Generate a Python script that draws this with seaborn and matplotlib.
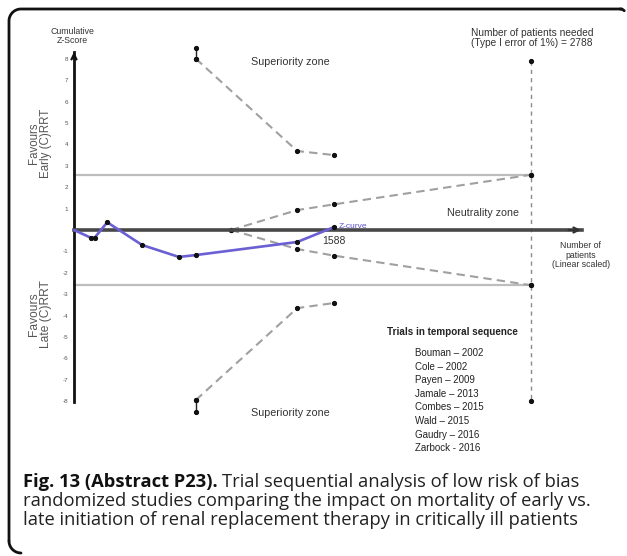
import matplotlib
matplotlib.use("Agg")
import matplotlib.pyplot as plt
from matplotlib import font_manager as fm
import seaborn as sns
import numpy as np

# ---------------- data ----------------
trial_patients = [0, 102, 126, 203, 415, 640, 744, 1362, 1588]
z_curve = [0.0, -0.36, -0.36, 0.36, -0.70, -1.26, -1.17, -0.56, 0.14]

boundary_patients = [744, 1362, 1588]
upper_boundary = [8.0, 3.69, 3.50]
lower_boundary = [-7.94, -3.65, -3.41]
cutoff_patients = [744, 744]
cutoff_upper = [8.5, 8.0]
cutoff_lower = [-8.5, -7.94]

futility_patients = [958, 1362, 1588, 2788]
futility_upper = [0.0, 0.93, 1.20, 2.58]
futility_lower = [0.0, -0.89, -1.20, -2.58]

required_info_size = 2788
ris_z = [7.9, 2.58, -2.58, -8.0]
conventional_z = 2.58
final_patients = 1588

y_ticks = [-8, -7, -6, -5, -4, -3, -2, -1, 1, 2, 3, 4, 5, 6, 7, 8]
trials = ["Bouman \u2013 2002", "Cole \u2013 2002", "Payen \u2013 2009", "Jamale \u2013 2013",
          "Combes \u2013 2015", "Wald \u2013 2015", "Gaudry \u2013 2016", "Zarbock - 2016"]

# ---------------- fonts ----------------
sns.set_style("white")
plt.rcParams["axes.unicode_minus"] = False
names = {f.name for f in fm.fontManager.ttflist}
narrow = [n for n in ["Liberation Sans Narrow", "Arial Narrow", "Nimbus Sans Narrow"] if n in names]
BASE = narrow[:1] + ["Liberation Sans", "DejaVu Sans"]
plt.rcParams["font.family"] = BASE
# a regular-width face is used instead of the reference's condensed one,
# so fonts are made slightly larger than the pure width match
GROW = 1.0 if narrow else 1.1

# ---------------- figure ----------------
W, H = 627, 556
fig = plt.figure(figsize=(W / 100, H / 100), dpi=100)

X0, SX = 74.0, 0.1639   # px of zero patients, px per patient
Y0, SY = 230.0, 21.4    # px of z = 0, px per z unit

ax = fig.add_axes([0, 0, 1, 1])
ax.set_facecolor("none")
ax.set_xlim(-X0 / SX, (W - X0) / SX)
ax.set_ylim(-(H - Y0) / SY, Y0 / SY)

for s in ["top", "right"]:
    ax.spines[s].set_visible(False)
ax.spines["left"].set_position(("data", 0))
ax.spines["bottom"].set_position(("data", 0))
ax.spines["left"].set_bounds(-8.05, 8.3)
ax.spines["bottom"].set_bounds(0, 3100)
ax.spines["left"].set_color("#111111")
ax.spines["left"].set_linewidth(2.0)
ax.spines["bottom"].set_color("#484848")
ax.spines["bottom"].set_linewidth(2.6)

ax.set_yticks(y_ticks)
ax.set_yticklabels([str(t) for t in y_ticks])
ax.tick_params(axis="y", direction="out", length=3, width=1, pad=1,
               labelsize=4.5, labelcolor="#555555", color="#222222")
ax.set_xticks([final_patients])
ax.set_xticklabels([str(final_patients)])
ax.tick_params(axis="x", direction="out", length=4, width=1, pad=0.5,
               labelsize=7.5, labelcolor="#333333", color="#333333")

# axis arrowheads
ax.annotate("", xy=(0, 8.45), xytext=(0, 7.9),
            arrowprops=dict(arrowstyle="->", lw=1.6, color="#111111", mutation_scale=9))
ax.annotate("", xy=(3110, 0), xytext=(3000, 0),
            arrowprops=dict(arrowstyle="->", lw=1.6, color="#333333", mutation_scale=9))

# conventional boundaries
for zc in (conventional_z, -conventional_z):
    ax.plot([0, required_info_size], [zc, zc], color="#bdbdbd", lw=1.6, zorder=1)

grey = "#a0a0a0"
dot = dict(marker="o", markersize=3.0, markerfacecolor="#111111", markeredgecolor="#111111")
dash = (0, (4, 2.5))

# monitoring boundaries
sns.lineplot(x=boundary_patients, y=upper_boundary, ax=ax, color=grey, lw=1.5,
             linestyle=dash, estimator=None, sort=False, **dot)
sns.lineplot(x=boundary_patients, y=lower_boundary, ax=ax, color=grey, lw=1.5,
             linestyle=dash, estimator=None, sort=False, **dot)
sns.lineplot(x=cutoff_patients, y=cutoff_upper, ax=ax, color="#222222", lw=1.0,
             estimator=None, sort=False, **dot)
sns.lineplot(x=cutoff_patients, y=cutoff_lower, ax=ax, color="#222222", lw=1.0,
             estimator=None, sort=False, **dot)

# futility (inner wedge)
sns.lineplot(x=futility_patients, y=futility_upper, ax=ax, color=grey, lw=1.5,
             linestyle=dash, estimator=None, sort=False, **dot)
sns.lineplot(x=futility_patients, y=futility_lower, ax=ax, color=grey, lw=1.5,
             linestyle=dash, estimator=None, sort=False, **dot)

# required information size
sns.lineplot(x=[required_info_size] * len(ris_z), y=ris_z, ax=ax, color="#8a8a8a", lw=1.0,
             linestyle=(0, (3, 3)), estimator=None, sort=False, **dot)

# Z-curve (no dot at the origin)
sns.lineplot(x=trial_patients, y=z_curve, ax=ax, color="#6a5fd3", lw=1.9,
             estimator=None, sort=False, zorder=5,
             markevery=list(range(1, len(trial_patients))), **dot)

# ---------------- overlay (pixel coordinates) ----------------
ov = fig.add_axes([0, 0, 1, 1])
ov.set_xlim(0, W)
ov.set_ylim(H, 0)
ov.axis("off")
ov.patch.set_alpha(0)

fig.canvas.draw()
renderer = fig.canvas.get_renderer()


def fit(x, y, s, width, vertical=False, **kw):
    """Place text and scale its font so its extent matches the reference width."""
    t = ov.text(x, y, s, fontsize=10, **kw)
    bb = t.get_window_extent(renderer)
    w = bb.height if vertical else bb.width
    t.set_fontsize(10 * width / w * GROW)
    return t


txt = "#333333"
fit(72, 36, "Cumulative\nZ-Score", 40, ha="center", va="center", color=txt, linespacing=1.1)
fit(40, 143, "Favours\nEarly (C)RRT", 63, vertical=True, ha="center", va="center",
    color="#555555", rotation=90, linespacing=1.0)
fit(40, 314, "Favours\nLate (C)RRT", 62, vertical=True, ha="center", va="center",
    color="#555555", rotation=90, linespacing=1.0)
fit(290, 62, "Superiority zone", 71, ha="center", va="center", color=txt)
fit(290, 413, "Superiority zone", 71, ha="center", va="center", color=txt)
fit(483, 213, "Neutrality zone", 65, ha="center", va="center", color=txt)
fit(339, 226, "Z-curve", 26, ha="left", va="center", color="#5a50d0")
fit(532, 38, "Number of patients needed\n(Type I error of 1%) = 2788", 111, ha="center",
    va="center", color=txt, linespacing=1.05)
fit(581, 255, "Number of\npatients\n(Linear scaled)", 53, ha="center", va="center",
    color=txt, linespacing=1.1)
fit(387, 332, "Trials in temporal sequence", 119, ha="left", va="center",
    fontweight="bold", color="#222222")
t0 = fit(415, 353, trials[0], 63, ha="left", va="center", color="#222222")
for i, t in enumerate(trials[1:], start=1):
    ov.text(415, 353 + i * 13.6, t, ha="left", va="center", fontsize=t0.get_fontsize(),
            color="#222222")

# frame (left + top edges with rounded corners)
r = 12
a1 = np.linspace(np.pi, 1.5 * np.pi, 20)
fx = [9] + list(9 + r + r * np.cos(a1)) + [622]
fy = [541] + list(9 + r + r * np.sin(a1)) + [9]
ov.plot(fx, fy, color="#111111", lw=2.0, solid_capstyle="round")
a2 = np.linspace(np.pi, 0.5 * np.pi, 12)
ov.plot(list(9 + r + r * np.cos(a2)), list(541 + r * np.sin(a2)), color="#111111", lw=2.0)
a3 = np.linspace(1.5 * np.pi, 1.75 * np.pi, 8)
ov.plot(list(620 + 6 * np.cos(a3)), list(15 + 6 * np.sin(a3)), color="#111111", lw=2.0)

# caption
cap_font = ["Open Sans", "DejaVu Sans"]
cap_size = 13.2
cx = 23
b = ov.text(cx, 482, "Fig. 13 (Abstract P23).", ha="left", va="center", fontsize=cap_size,
            fontweight="bold", family=cap_font, color="#111111")
bb = b.get_window_extent(renderer)
ov.text(cx + bb.width + 4, 482, "Trial sequential analysis of low risk of bias", ha="left",
        va="center", fontsize=cap_size, family=cap_font, color="#222222")
ov.text(cx, 501, "randomized studies comparing the impact on mortality of early vs.", ha="left",
        va="center", fontsize=cap_size, family=cap_font, color="#222222")
ov.text(cx, 520, "late initiation of renal replacement therapy in critically ill patients",
        ha="left", va="center", fontsize=cap_size, family=cap_font, color="#222222")

fig.savefig("out.png", dpi=100)
